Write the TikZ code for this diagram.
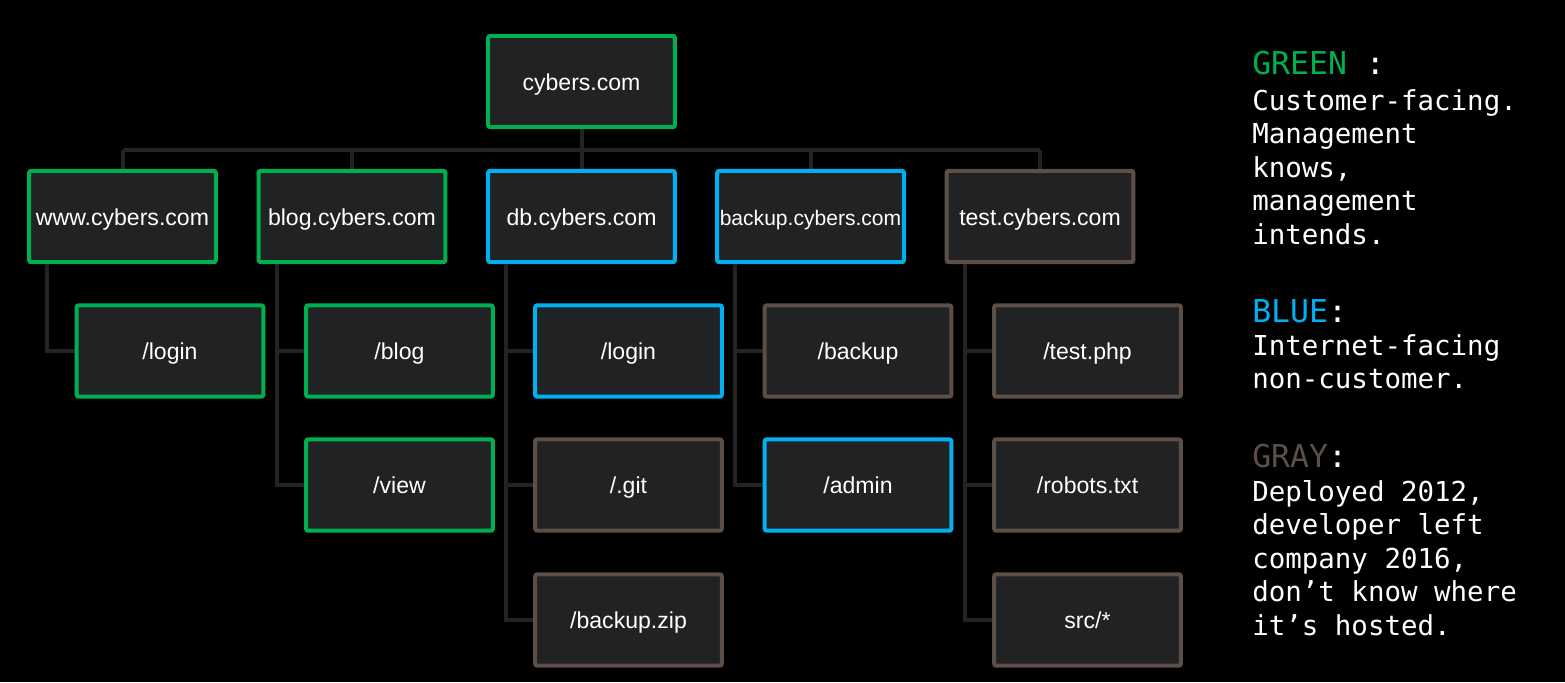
\documentclass[tikz,border=0pt]{standalone}
\usepackage{fontspec}
\setmainfont{Liberation Sans}
\newfontfamily\legendfont{DejaVu Sans Mono}
\definecolor{cgreen}{HTML}{00B050}
\definecolor{cblue}{HTML}{00B0F0}
\definecolor{cgray}{HTML}{5B4F48}
\definecolor{cfill}{HTML}{212224}
\definecolor{cline}{HTML}{232323}
\tikzset{
  box/.style={draw, line width=3pt, fill=cfill, rounded corners=1.5pt,
    minimum width=140pt, minimum height=68.5pt, inner sep=0pt,
    text height=14pt, text depth=0.8pt,
    text=white, font=\fontsize{17.3}{20}\selectfont},
  gbox/.style={box, draw=cgreen},
  bbox/.style={box, draw=cblue},
  ybox/.style={box, draw=cgray},
  conn/.style={draw=cline, line width=3pt},
  legtext/.style={anchor=north west, inner sep=0pt, text=white, align=left,
    font=\legendfont\fontsize{20.6}{25.1}\selectfont},
  leghead/.style={anchor=base west, inner sep=0pt, text=white,
    font=\legendfont\fontsize{23.6}{26}\selectfont}
}
\begin{document}
\begin{tikzpicture}[x=0.75pt,y=-0.75pt]
\fill[black] (0,0) rectangle (1565,682);
\useasboundingbox (0,0) rectangle (1565,682);

% node positions
\coordinate (root) at (581.5,81.5);
\coordinate (www) at (122.5,216.5);
\coordinate (blog) at (352,216.5);
\coordinate (db) at (581.5,216.5);
\coordinate (backup) at (810.5,216.5);
\coordinate (test) at (1040,216.5);
\coordinate (bar) at (0,150);

% connectors behind the boxes
\path[conn] (root) -- (root |- bar);
\path[conn] (www |- bar) -- (test |- bar);
\foreach \n in {www,blog,db,backup,test}{
  \path[conn] (\n) -- (\n |- bar);
}

% nodes
\node[gbox] (nroot) at (root) {cybers.com};
\node[gbox] (nwww) at (www) {www.cybers.com};
\node[gbox] (nblog) at (blog) {blog.cybers.com};
\node[bbox] (ndb) at (db) {db.cybers.com};
\node[bbox, font=\fontsize{15.8}{18}\selectfont] (nbackup) at (backup) {backup.cybers.com};
\node[ybox] (ntest) at (test) {test.cybers.com};

\coordinate (wx) at ([xshift=15pt]nwww.south west);
\coordinate (bx) at ([xshift=15pt]nblog.south west);
\coordinate (dx) at ([xshift=15pt]ndb.south west);
\coordinate (kx) at ([xshift=15pt]nbackup.south west);
\coordinate (tx) at ([xshift=15pt]ntest.south west);

\coordinate (wlogin) at (170,351);
\coordinate (bblog) at (399.5,351);
\coordinate (bview) at (399.5,485);
\coordinate (dlogin) at (628.5,351);
\coordinate (dgit) at (628.5,485);
\coordinate (dzip) at (628.5,620);
\coordinate (kbackup) at (858,351);
\coordinate (kadmin) at (858,485);
\coordinate (tphp) at (1087.5,351);
\coordinate (trobots) at (1087.5,485);
\coordinate (tsrc) at (1087.5,620);

\path[conn] (wx) |- (wlogin);
\path[conn] (bx) |- (bview);
\path[conn] (bblog) -- (bblog -| bx);
\path[conn] (dx) |- (dzip);
\path[conn] (dlogin) -- (dlogin -| dx);
\path[conn] (dgit) -- (dgit -| dx);
\path[conn] (kx) |- (kadmin);
\path[conn] (kbackup) -- (kbackup -| kx);
\path[conn] (tx) |- (tsrc);
\path[conn] (tphp) -- (tphp -| tx);
\path[conn] (trobots) -- (trobots -| tx);

\node[gbox] (nwlogin) at (wlogin) {/login};
\node[gbox] (nbblog) at (bblog) {/blog};
\node[gbox] (nbview) at (bview) {/view};
\node[bbox] (ndlogin) at (dlogin) {/login};
\node[ybox] (ndgit) at (dgit) {/.git};
\node[ybox] (ndzip) at (dzip) {/backup.zip};
\node[ybox] (nkbackup) at (kbackup) {/backup};
\node[bbox] (nkadmin) at (kadmin) {/admin};
\node[ybox] (ntphp) at (tphp) {/test.php};
\node[ybox] (ntrobots) at (trobots) {/robots.txt};
\node[ybox] (ntsrc) at (tsrc) {src/*};

% legend
\node[leghead] (lg) at (1252,74.5) {\textcolor{cgreen}{GREEN} :};
\node[legtext] (lgt) at (1252,89) {Customer-facing.\\Management\\knows,\\management\\intends.};
\node[leghead] (lb) at (1252,322.5) {\textcolor{cblue}{BLUE}:};
\node[legtext] (lbt) at (1252,334) {Internet-facing\\non-customer.};
\node[leghead] (ly) at (1252,467) {\textcolor{cgray}{GRAY}:};
\node[legtext] (lyt) at (1252,480) {Deployed 2012,\\developer left\\company 2016,\\don’t know where\\it’s hosted.};
\end{tikzpicture}
\end{document}
